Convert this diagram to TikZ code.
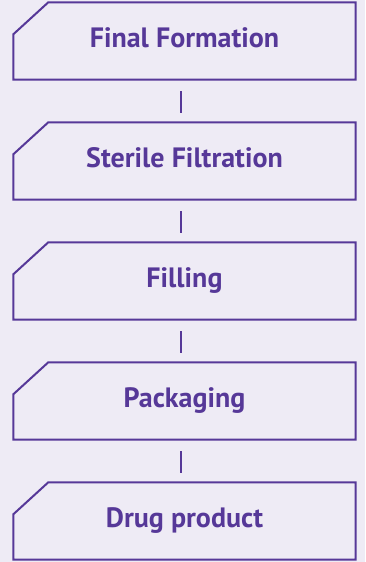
\documentclass[tikz,border=0pt]{standalone}
\usepackage{fontspec}
\setmainfont{PT Sans}
\newlength{\du}
\setlength{\du}{1pt}
\definecolor{stepline}{RGB}{86,56,152}
\definecolor{stepback}{RGB}{238,235,245}
\tikzset{
  stepbox/.style={rectangle, minimum width=342\du, minimum height=77\du, inner sep=0pt,
    text height=12\du, text depth=0pt, text=stepline, font=\bfseries\fontsize{28}{32}\selectfont},
  stepedge/.style={draw=stepline, line width=2\du, line join=miter},
  steplink/.style={draw=stepline, line width=2\du, shorten <=11.5\du, shorten >=9.5\du}
}

\begin{document}
\begin{tikzpicture}
% background
\fill[stepback] (0\du,0\du) rectangle (365\du,-562\du);
\useasboundingbox (0\du,0\du) rectangle (365\du,-562\du);
% steps
\node[stepbox] (form) at (184.5\du,-41\du) {Final Formation};
\node[stepbox] (filt) at (184.5\du,-161\du) {Sterile Filtration};
\node[stepbox] (fill) at (184.5\du,-281\du) {Filling};
\node[stepbox] (pack) at (184.5\du,-401\du) {Packaging};
\node[stepbox] (drug) at (184.5\du,-521\du) {Drug product};
% outlines with cut corner
\foreach \n in {form,filt,fill,pack,drug}
  \draw[stepedge] ([xshift=35\du]\n.north west) -- (\n.north east) -- (\n.south east)
    -- (\n.south west) -- ([yshift=-32\du]\n.north west) -- cycle;
% links
\foreach \a/\b in {form/filt,filt/fill,fill/pack,pack/drug}
  \draw[steplink] ([xshift=-3.5\du]\a.south) -- ([xshift=-3.5\du]\b.north);
\end{tikzpicture}
\end{document}
